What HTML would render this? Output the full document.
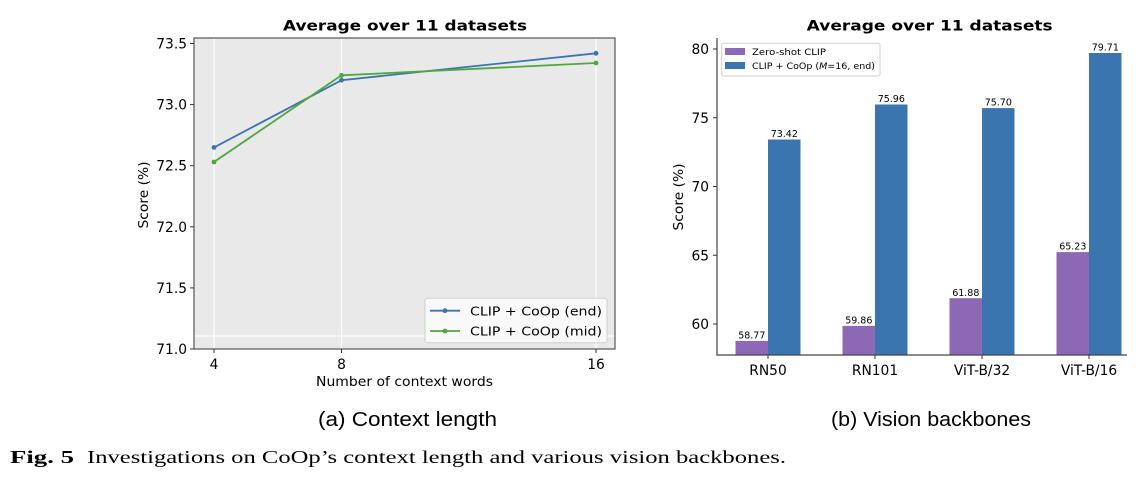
<!DOCTYPE html>
<html><head><meta charset="utf-8"><style>
html,body{margin:0;padding:0;background:#fff;}
svg{display:block;}
text{font-family:"DejaVu Sans","Liberation Sans",sans-serif;fill:#000;}
</style></head><body>
<svg width="1140" height="482" viewBox="0 0 1140 482" xmlns="http://www.w3.org/2000/svg">
<rect width="1140" height="482" fill="#fff"/>

<!-- ===== LEFT PLOT ===== -->
<text x="405" y="30.5" font-size="14.5" font-weight="bold" text-anchor="middle" textLength="244" lengthAdjust="spacingAndGlyphs">Average over 11 datasets</text>
<rect x="194" y="38" width="421" height="311" fill="#e9e9e9"/>
<!-- grid -->
<g stroke="#fff" stroke-width="1.2">
<line x1="214" y1="38" x2="214" y2="349"/>
<line x1="341.5" y1="38" x2="341.5" y2="349"/>
<line x1="596" y1="38" x2="596" y2="349"/>
<line x1="194" y1="336" x2="615" y2="336"/>
</g>
<!-- series -->
<polyline points="214,147.4 341.5,80.2 596,53.3" fill="none" stroke="#3b74b1" stroke-width="1.8"/>
<polyline points="214,162 341.5,75.3 596,63" fill="none" stroke="#4ea83e" stroke-width="1.8"/>
<g fill="#3b74b1"><circle cx="214" cy="147.4" r="2.4"/><circle cx="341.5" cy="80.2" r="2.4"/><circle cx="596" cy="53.3" r="2.4"/></g>
<g fill="#4ea83e"><circle cx="214" cy="162" r="2.4"/><circle cx="341.5" cy="75.3" r="2.4"/><circle cx="596" cy="63" r="2.4"/></g>
<!-- spines -->
<rect x="194" y="38" width="421" height="311" fill="none" stroke="#555" stroke-width="1.2"/>
<!-- y ticks -->
<g stroke="#333" stroke-width="1">
<line x1="190" y1="43.5" x2="194" y2="43.5"/>
<line x1="190" y1="104.6" x2="194" y2="104.6"/>
<line x1="190" y1="165.7" x2="194" y2="165.7"/>
<line x1="190" y1="226.8" x2="194" y2="226.8"/>
<line x1="190" y1="287.9" x2="194" y2="287.9"/>
<line x1="190" y1="349" x2="194" y2="349"/>
<line x1="214" y1="349" x2="214" y2="353"/>
<line x1="341.5" y1="349" x2="341.5" y2="353"/>
<line x1="596" y1="349" x2="596" y2="353"/>
</g>
<g font-size="13.8" text-anchor="end">
<text x="187" y="48.5">73.5</text>
<text x="187" y="109.6">73.0</text>
<text x="187" y="170.7">72.5</text>
<text x="187" y="231.8">72.0</text>
<text x="187" y="292.9">71.5</text>
<text x="187" y="354">71.0</text>
</g>
<g font-size="13.8" text-anchor="middle">
<text x="214" y="369">4</text>
<text x="341.5" y="369">8</text>
<text x="596" y="369">16</text>
</g>
<text x="404.5" y="386" font-size="13.5" text-anchor="middle" textLength="177" lengthAdjust="spacingAndGlyphs">Number of context words</text>
<text transform="translate(148,195) rotate(-90)" font-size="13.5" text-anchor="middle" textLength="67" lengthAdjust="spacingAndGlyphs">Score (%)</text>
<!-- legend -->
<rect x="425" y="298.3" width="182" height="44.4" rx="2.5" fill="#f9f9f9" stroke="#d0d0d0" stroke-width="1"/>
<line x1="430" y1="310.7" x2="460" y2="310.7" stroke="#3b74b1" stroke-width="1.8"/>
<circle cx="445" cy="310.7" r="2.4" fill="#3b74b1"/>
<line x1="430" y1="331" x2="460" y2="331" stroke="#4ea83e" stroke-width="1.8"/>
<circle cx="445" cy="331" r="2.4" fill="#4ea83e"/>
<text x="470" y="315.3" font-size="12.8" textLength="132" lengthAdjust="spacingAndGlyphs">CLIP + CoOp (end)</text>
<text x="470" y="335.6" font-size="12.8" textLength="132" lengthAdjust="spacingAndGlyphs">CLIP + CoOp (mid)</text>

<!-- ===== RIGHT PLOT ===== -->
<text x="929.7" y="30.5" font-size="14.5" font-weight="bold" text-anchor="middle" textLength="246" lengthAdjust="spacingAndGlyphs">Average over 11 datasets</text>
<!-- bars -->
<g fill="#8d69b5">
<rect x="735.5" y="340.9" width="32.5" height="14.1"/>
<rect x="842.5" y="325.9" width="32.5" height="29.1"/>
<rect x="949.5" y="298.2" width="32.5" height="56.8"/>
<rect x="1056.5" y="252.1" width="32.5" height="102.9"/>
</g>
<g fill="#3b75af">
<rect x="768" y="139.5" width="32.5" height="215.5"/>
<rect x="875" y="104.5" width="32.5" height="250.5"/>
<rect x="982" y="108.1" width="32.5" height="246.9"/>
<rect x="1089" y="53" width="32.5" height="302"/>
</g>
<!-- value labels -->
<g font-size="9.5" text-anchor="middle" fill="#222">
<text x="751.8" y="338.5">58.77</text>
<text x="858.8" y="323.5">59.86</text>
<text x="965.8" y="295.8">61.88</text>
<text x="1072.8" y="249.7">65.23</text>
<text x="784.3" y="137.1">73.42</text>
<text x="891.3" y="102.1">75.96</text>
<text x="998.3" y="105.7">75.70</text>
<text x="1105.3" y="50.6">79.71</text>
</g>
<!-- spines -->
<g stroke="#444" stroke-width="1.2">
<line x1="717" y1="38" x2="717" y2="355.6"/>
<line x1="716.4" y1="355" x2="1127" y2="355"/>
</g>
<g stroke="#333" stroke-width="1">
<line x1="713" y1="49" x2="717" y2="49"/>
<line x1="713" y1="117.75" x2="717" y2="117.75"/>
<line x1="713" y1="186.5" x2="717" y2="186.5"/>
<line x1="713" y1="255.25" x2="717" y2="255.25"/>
<line x1="713" y1="324" x2="717" y2="324"/>
<line x1="768" y1="355" x2="768" y2="359"/>
<line x1="875" y1="355" x2="875" y2="359"/>
<line x1="982" y1="355" x2="982" y2="359"/>
<line x1="1089" y1="355" x2="1089" y2="359"/>
</g>
<g font-size="13.8" text-anchor="end">
<text x="709" y="54">80</text>
<text x="709" y="122.75">75</text>
<text x="709" y="191.5">70</text>
<text x="709" y="260.25">65</text>
<text x="709" y="329">60</text>
</g>
<g font-size="13.8" text-anchor="middle">
<text x="768" y="375">RN50</text>
<text x="875" y="375">RN101</text>
<text x="982" y="375">ViT-B/32</text>
<text x="1089" y="375">ViT-B/16</text>
</g>
<text transform="translate(683,197) rotate(-90)" font-size="13.5" text-anchor="middle" textLength="67" lengthAdjust="spacingAndGlyphs">Score (%)</text>
<!-- legend -->
<rect x="721.7" y="43.3" width="158.3" height="32.7" rx="2" fill="#fff" stroke="#d0d0d0" stroke-width="1"/>
<rect x="725" y="48" width="20" height="7" fill="#8d69b5"/>
<rect x="725" y="62" width="20" height="7" fill="#3b75af"/>
<text x="752" y="55" font-size="8.6" fill="#222" textLength="74" lengthAdjust="spacingAndGlyphs">Zero-shot CLIP</text>
<text x="752" y="69" font-size="8.6" fill="#222" textLength="123" lengthAdjust="spacingAndGlyphs">CLIP + CoOp (<tspan font-style="italic">M</tspan>=16, end)</text>

<!-- ===== CAPTIONS ===== -->
<text x="318" y="426" font-family="Liberation Sans, sans-serif" font-size="20" textLength="179" lengthAdjust="spacingAndGlyphs" style="font-family:'Liberation Sans',sans-serif">(a) Context length</text>
<text x="831" y="426" font-size="20" textLength="200" lengthAdjust="spacingAndGlyphs" style="font-family:'Liberation Sans',sans-serif">(b) Vision backbones</text>
<text x="10" y="463" font-size="17.5" font-weight="bold" textLength="64" lengthAdjust="spacingAndGlyphs" style="font-family:'Liberation Serif',serif">Fig. 5</text>
<text x="87" y="463" font-size="17.5" textLength="699" lengthAdjust="spacingAndGlyphs" style="font-family:'Liberation Serif',serif">Investigations on CoOp’s context length and various vision backbones.</text>
</svg>
</body></html>
